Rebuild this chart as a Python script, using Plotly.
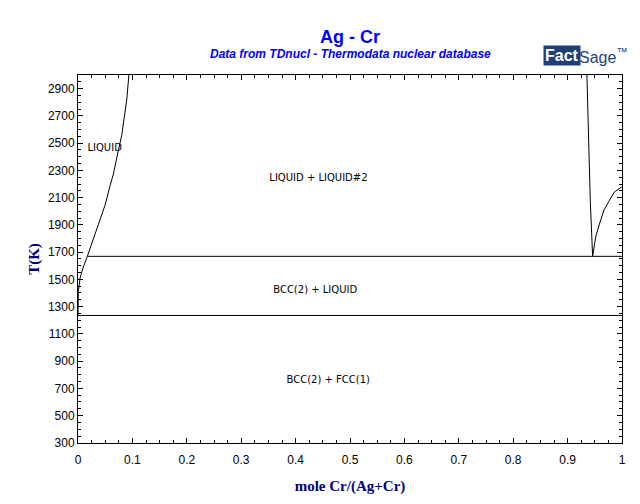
import plotly.graph_objects as go

# ---- data (mole fraction Cr, temperature K) ----
left_liq_x = [0.0, 0.0004, 0.0006, 0.0037, 0.0098, 0.0172, 0.0344, 0.0497, 0.059, 0.065, 0.0712, 0.0804, 0.0897, 0.0935]
left_liq_T = [1235, 1340, 1412, 1508, 1591, 1669, 1866, 2045, 2189, 2272, 2391, 2558, 2821, 3000]

right_gap_x = [0.9355, 0.938, 0.9417, 0.946]
right_gap_T = [3000, 2558, 2081, 1669]

right_liq_x = [0.946, 0.952, 0.961, 0.967, 0.977, 0.986, 1.0]
right_liq_T = [1669, 1818, 1938, 2010, 2081, 2141, 2180]

monotectic_x = [0.0172, 1.0]
monotectic_T = [1669, 1669]

eutectic_x = [0.0, 1.0]
eutectic_T = [1235, 1235]

region_labels = ["LIQUID", "LIQUID + LIQUID#2", "BCC(2) + LIQUID", "BCC(2) + FCC(1)"]
region_x = [0.049, 0.442, 0.436, 0.460]
region_T = [2458, 2241, 1417, 758]

x_tickvals = [0, 0.1, 0.2, 0.3, 0.4, 0.5, 0.6, 0.7, 0.8, 0.9, 1]
x_ticktext = ["0", "0.1", "0.2", "0.3", "0.4", "0.5", "0.6", "0.7", "0.8", "0.9", "1"]
y_tickvals = list(range(300, 3000, 200))

fig = go.Figure()
line_style = dict(color="black", width=1)
for xs, ts in [(left_liq_x, left_liq_T), (right_gap_x, right_gap_T), (right_liq_x, right_liq_T),
               (monotectic_x, monotectic_T), (eutectic_x, eutectic_T)]:
    fig.add_trace(go.Scatter(x=xs, y=ts, mode="lines", line=line_style, hoverinfo="skip",
                             showlegend=False))

fig.add_trace(go.Scatter(x=region_x, y=region_T, mode="text", text=region_labels,
                         textfont=dict(family="DejaVu Sans", size=10, color="black"),
                         showlegend=False, hoverinfo="skip"))

axis_common = dict(showline=True, linecolor="black", linewidth=1, mirror="ticks",
                   ticks="inside", ticklen=5, tickcolor="black", tickwidth=1,
                   showgrid=False, zeroline=False,
                   tickfont=dict(family="Liberation Sans, Arial", size=12, color="black"))

fig.update_xaxes(range=[0, 1], tickvals=x_tickvals, ticktext=x_ticktext, ticklabelstandoff=6,
                 minor=dict(dtick=0.025, tick0=0, ticks="inside", ticklen=3, tickcolor="black", showgrid=False),
                 title=dict(text="<b>mole Cr/(Ag+Cr)</b>", font=dict(family="Liberation Serif, Times New Roman", size=15, color="#000080"), standoff=14),
                 **axis_common)
fig.update_yaxes(range=[299, 3000], tickvals=y_tickvals,
                 minor=dict(dtick=50, tick0=300, ticks="inside", ticklen=3, tickcolor="black", showgrid=False),
                 title=dict(text="<b>T(K)</b>", font=dict(family="Liberation Serif, Times New Roman", size=15, color="#000080"), standoff=4),
                 **axis_common)

fig.update_layout(
    width=632, height=496,
    margin=dict(l=70, r=18, t=67, b=52),
    paper_bgcolor="white", plot_bgcolor="white",
    annotations=[
        dict(text="<b>Ag - Cr</b>", xref="paper", yref="paper", x=0.5, y=1, yshift=38, showarrow=False,
             font=dict(family="Liberation Sans, Arial", size=18, color="#0000FF"), yanchor="middle"),
        dict(text="<b><i>Data from TDnucl - Thermodata nuclear database</i></b>", xref="paper", yref="paper",
             x=0.5, y=1, yshift=21, showarrow=False,
             font=dict(family="Liberation Sans, Arial", size=12, color="#0000FF"), yanchor="middle"),
        dict(text="<b>Fact</b>", xref="paper", yref="paper", x=0.89, y=1, yshift=20,
             xanchor="center", yanchor="middle", showarrow=False, bgcolor="#1F3F78", borderpad=1,
             font=dict(family="Liberation Sans, Arial", size=16, color="white")),
        dict(text="Sage<sup>™</sup>", xref="paper", yref="paper", x=0.918, y=1, yshift=19,
             xanchor="left", yanchor="middle", showarrow=False,
             font=dict(family="Liberation Sans Narrow, Liberation Sans, Arial", size=16, color="#1F3F78")),
    ],
)

fig.write_html("out.html")
